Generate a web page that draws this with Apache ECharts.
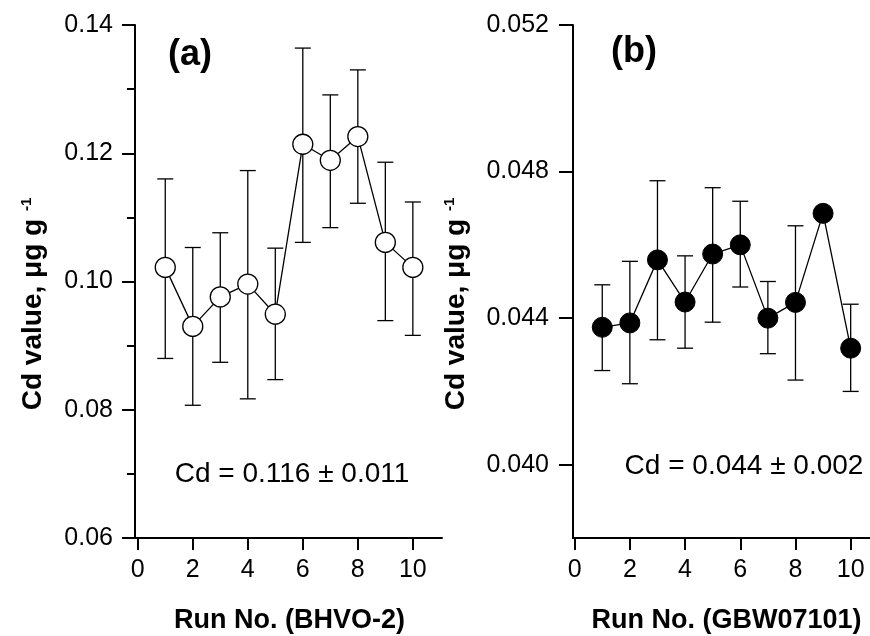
<!DOCTYPE html>
<html><head><meta charset="utf-8">
<script src="https://cdn.jsdelivr.net/npm/echarts@6/dist/echarts.min.js"></script>
<style>html,body{margin:0;padding:0;background:#fff}#c{width:870px;height:636px}</style>
</head><body><div id="c"></div>
<script>
// ---- data ----
const runs = [1, 2, 3, 4, 5, 6, 7, 8, 9, 10];
const xTicks = [0, 2, 4, 6, 8, 10];
const cdA     = [0.1022, 0.0930, 0.0976, 0.0996, 0.0949, 0.1214, 0.1189, 0.1226, 0.1061, 0.1022];
const cdAHigh = [0.1160, 0.1053, 0.1076, 0.1173, 0.1052, 0.1364, 0.1291, 0.1330, 0.1186, 0.1124];
const cdALow  = [0.0880, 0.0807, 0.0874, 0.0817, 0.0847, 0.1061, 0.1084, 0.1122, 0.0939, 0.0916];
const cdB     = [0.04375, 0.04387, 0.04559, 0.04444, 0.04575, 0.04600, 0.04400, 0.04443, 0.04686, 0.04318];
const cdBHigh = [0.04491, 0.04555, 0.04775, 0.04570, 0.04756, 0.04719, 0.04500, 0.04652, 0.04686, 0.04438];
const cdBLow  = [0.04257, 0.04221, 0.04341, 0.04318, 0.04389, 0.04485, 0.04303, 0.04231, 0.04686, 0.04200];
const yTicksA = [0.06, 0.08, 0.10, 0.12, 0.14];
const yTicksB = [0.040, 0.044, 0.048, 0.052];
const labelA = '(a)', labelB = '(b)';
const noteA = 'Cd = 0.116 \u00b1 0.011';
const noteB = 'Cd = 0.044 \u00b1 0.002';
const xTitleA = 'Run No. (BHVO-2)';
const xTitleB = 'Run No. (GBW07101)';
const yTitle = 'Cd value, \u03bcg g';
const yTitleSup = '-1';

// ---- chart ----
const FF = 'Liberation Sans, Arial, Helvetica, sans-serif';
const chart = echarts.init(document.getElementById('c'), null, {renderer: 'canvas'});

function errRender(params, api) {
  const x = api.value(0), lo = api.value(1), hi = api.value(2);
  if (lo === hi) return null;
  const pLo = api.coord([x, lo]), pHi = api.coord([x, hi]);
  const w = 8;
  const st = {stroke: '#000', lineWidth: 1.3};
  return {type: 'group', children: [
    {type: 'line', shape: {x1: pLo[0], y1: pLo[1], x2: pHi[0], y2: pHi[1]}, style: st},
    {type: 'line', shape: {x1: pLo[0] - w, y1: pLo[1], x2: pLo[0] + w, y2: pLo[1]}, style: st},
    {type: 'line', shape: {x1: pHi[0] - w, y1: pHi[1], x2: pHi[0] + w, y2: pHi[1]}, style: st}
  ]};
}

const axLine = {show: true, onZero: false, lineStyle: {color: '#000', width: 2}};
const lbl = {color: '#000', fontSize: 25, fontFamily: FF};

function xAxisCfg(idx, min, max) {
  return {
    type: 'value', gridIndex: idx, min: min, max: max,
    axisLine: axLine,
    axisTick: {show: true, length: 12, customValues: xTicks, lineStyle: {color: '#000', width: 2}},
    axisLabel: Object.assign({customValues: xTicks, margin: 20}, lbl),
    splitLine: {show: false}
  };
}

function yTitleGraphic(x) {
  return {type: 'text', x: x, y: 304, rotation: Math.PI / 2, style: {
    text: '{m|' + yTitle + ' }{s|' + yTitleSup + '}', align: 'center', verticalAlign: 'middle', fill: '#000',
    rich: {m: {fontSize: 28, fontWeight: 'bold', fontFamily: FF, fill: '#000', verticalAlign: 'bottom'},
           s: {fontSize: 15, fontWeight: 'bold', fontFamily: FF, fill: '#000', verticalAlign: 'top'}}}};
}

const option = {
  animation: false,
  backgroundColor: '#fff',
  grid: [
    {left: 135, top: 25, width: 307, height: 513},
    {left: 573, top: 25, width: 297, height: 513}
  ],
  xAxis: [xAxisCfg(0, -0.1, 11.06), xAxisCfg(1, -0.06, 10.7)],
  yAxis: [
    {
      type: 'value', gridIndex: 0, min: 0.06, max: 0.14, interval: 0.02,
      axisLine: axLine,
      axisTick: {show: true, length: 13, lineStyle: {color: '#000', width: 2}},
      minorTick: {show: true, splitNumber: 2, length: 8, lineStyle: {color: '#000', width: 2}},
      axisLabel: Object.assign({margin: 22, formatter: v => v.toFixed(2)}, lbl),
      splitLine: {show: false}, minorSplitLine: {show: false}
    },
    {
      type: 'value', gridIndex: 1, min: 0.038, max: 0.052,
      axisLine: axLine,
      axisTick: {show: true, length: 14, customValues: yTicksB, lineStyle: {color: '#000', width: 2}},
      axisLabel: Object.assign({margin: 24, customValues: yTicksB, formatter: v => v.toFixed(3)}, lbl),
      splitLine: {show: false}
    }
  ],
  series: [
    {
      type: 'custom', xAxisIndex: 0, yAxisIndex: 0, z: 1,
      renderItem: errRender, encode: {x: 0, y: [1, 2]},
      data: runs.map((r, i) => [r, cdALow[i], cdAHigh[i]])
    },
    {
      type: 'line', xAxisIndex: 0, yAxisIndex: 0, z: 3,
      data: runs.map((r, i) => [r, cdA[i]]),
      symbol: 'circle', symbolSize: 20, showAllSymbol: true,
      lineStyle: {color: '#000', width: 1.3},
      itemStyle: {color: '#fff', borderColor: '#000', borderWidth: 1.3}
    },
    {
      type: 'custom', xAxisIndex: 1, yAxisIndex: 1, z: 1,
      renderItem: errRender, encode: {x: 0, y: [1, 2]},
      data: runs.map((r, i) => [r, cdBLow[i], cdBHigh[i]])
    },
    {
      type: 'line', xAxisIndex: 1, yAxisIndex: 1, z: 3,
      data: runs.map((r, i) => [r, cdB[i]]),
      symbol: 'circle', symbolSize: 20, showAllSymbol: true,
      lineStyle: {color: '#000', width: 1.3},
      itemStyle: {color: '#000', borderColor: '#000', borderWidth: 1}
    }
  ],
  graphic: [
    {type: 'text', x: 190, y: 55, style: {text: labelA, fontSize: 36, fontWeight: 'bold', fontFamily: FF, fill: '#000', align: 'center', verticalAlign: 'middle'}},
    {type: 'text', x: 634, y: 52, style: {text: labelB, fontSize: 36, fontWeight: 'bold', fontFamily: FF, fill: '#000', align: 'center', verticalAlign: 'middle'}},
    {type: 'text', x: 292, y: 474, style: {text: noteA, fontSize: 28, fontFamily: FF, fill: '#000', align: 'center', verticalAlign: 'middle'}},
    {type: 'text', x: 744, y: 466, style: {text: noteB, fontSize: 28, fontFamily: FF, fill: '#000', align: 'center', verticalAlign: 'middle'}},
    {type: 'text', x: 289.5, y: 621, style: {text: xTitleA, fontSize: 27, fontWeight: 'bold', fontFamily: FF, fill: '#000', align: 'center', verticalAlign: 'middle'}},
    {type: 'text', x: 726.5, y: 621, style: {text: xTitleB, fontSize: 27, fontWeight: 'bold', fontFamily: FF, fill: '#000', align: 'center', verticalAlign: 'middle'}},
    yTitleGraphic(33),
    yTitleGraphic(456)
  ]
};
chart.setOption(option);
</script>
</body></html>
